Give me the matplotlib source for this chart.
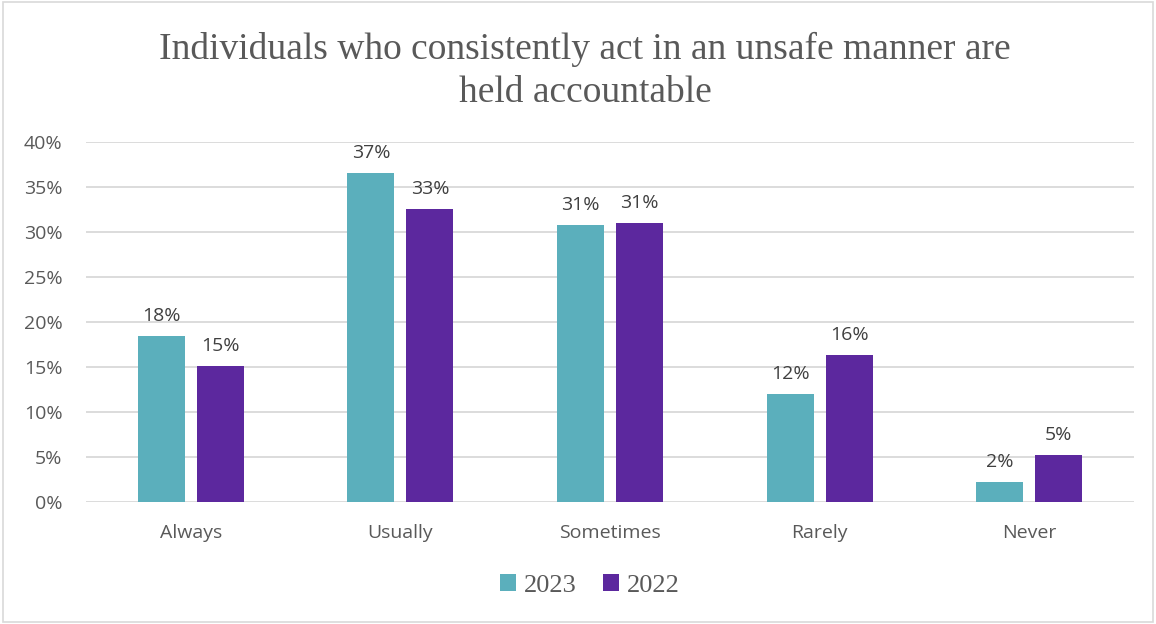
import matplotlib
matplotlib.use("Agg")
import matplotlib.pyplot as plt
from matplotlib.patches import Rectangle
import numpy as np

categories = ["Always", "Usually", "Sometimes", "Rarely", "Never"]
series_names = ["2023", "2022"]
values_2023 = [18.4, 36.6, 30.8, 12.0, 2.2]
values_2022 = [15.1, 32.6, 31.0, 16.3, 5.2]
yticks = [0, 5, 10, 15, 20, 25, 30, 35, 40]

c2023 = "#5BAFBC"
c2022 = "#5C289E"
text_gray = "#595959"

fig = plt.figure(figsize=(11.56, 6.24), dpi=100)
ax = fig.add_axes([0.0744, 0.1955, 0.9066, 0.5769])

x = np.arange(len(categories))
w = 0.224
off = 0.141
b1 = ax.bar(x - off, values_2023, width=w, color=c2023, label=series_names[0], zorder=3)
b2 = ax.bar(x + off, values_2022, width=w, color=c2022, label=series_names[1], zorder=3)

for bars, vals in ((b1, values_2023), (b2, values_2022)):
    for rect, v in zip(bars, vals):
        ax.annotate(f"{round(v):.0f}%", (rect.get_x() + rect.get_width() / 2, v),
                    xytext=(0, 8), textcoords="offset points", ha="center", va="bottom",
                    fontsize=14, color="#404040", family="Open Sans")

ax.set_xlim(-0.5, len(categories) - 0.5)
ax.set_ylim(0, 40)
ax.set_yticks(yticks)
ax.set_yticklabels([f"{t}%" for t in yticks], fontsize=14, color=text_gray, family="Open Sans")
ax.set_xticks(x)
ax.set_xticklabels(categories, fontsize=14, color=text_gray, family="Open Sans")
ax.tick_params(axis="both", length=0)
ax.tick_params(axis="x", pad=16)
ax.tick_params(axis="y", pad=17)
ax.grid(axis="y", color="#D9D9D9", linewidth=1.3, zorder=0)
for s in ax.spines.values():
    s.set_visible(False)

fig.text(0.506, 0.886, "Individuals who consistently act in an unsafe manner are\nheld accountable",
         ha="center", va="center", fontsize=27, color=text_gray, family="Liberation Serif",
         linespacing=1.32)

leg = fig.legend(loc="center", bbox_to_anchor=(0.51, 0.062), ncol=2, frameon=False,
                 prop={"family": "Liberation Serif", "size": 19}, handlelength=0.6,
                 handleheight=0.6, handletextpad=0.3, columnspacing=1.0)
for t in leg.get_texts():
    t.set_color(text_gray)

fig.patches.append(Rectangle((0.003, 0.004), 0.994, 0.992, transform=fig.transFigure,
                             fill=False, edgecolor="#D9D9D9", linewidth=1.2))

fig.savefig("out.png", dpi=100)
